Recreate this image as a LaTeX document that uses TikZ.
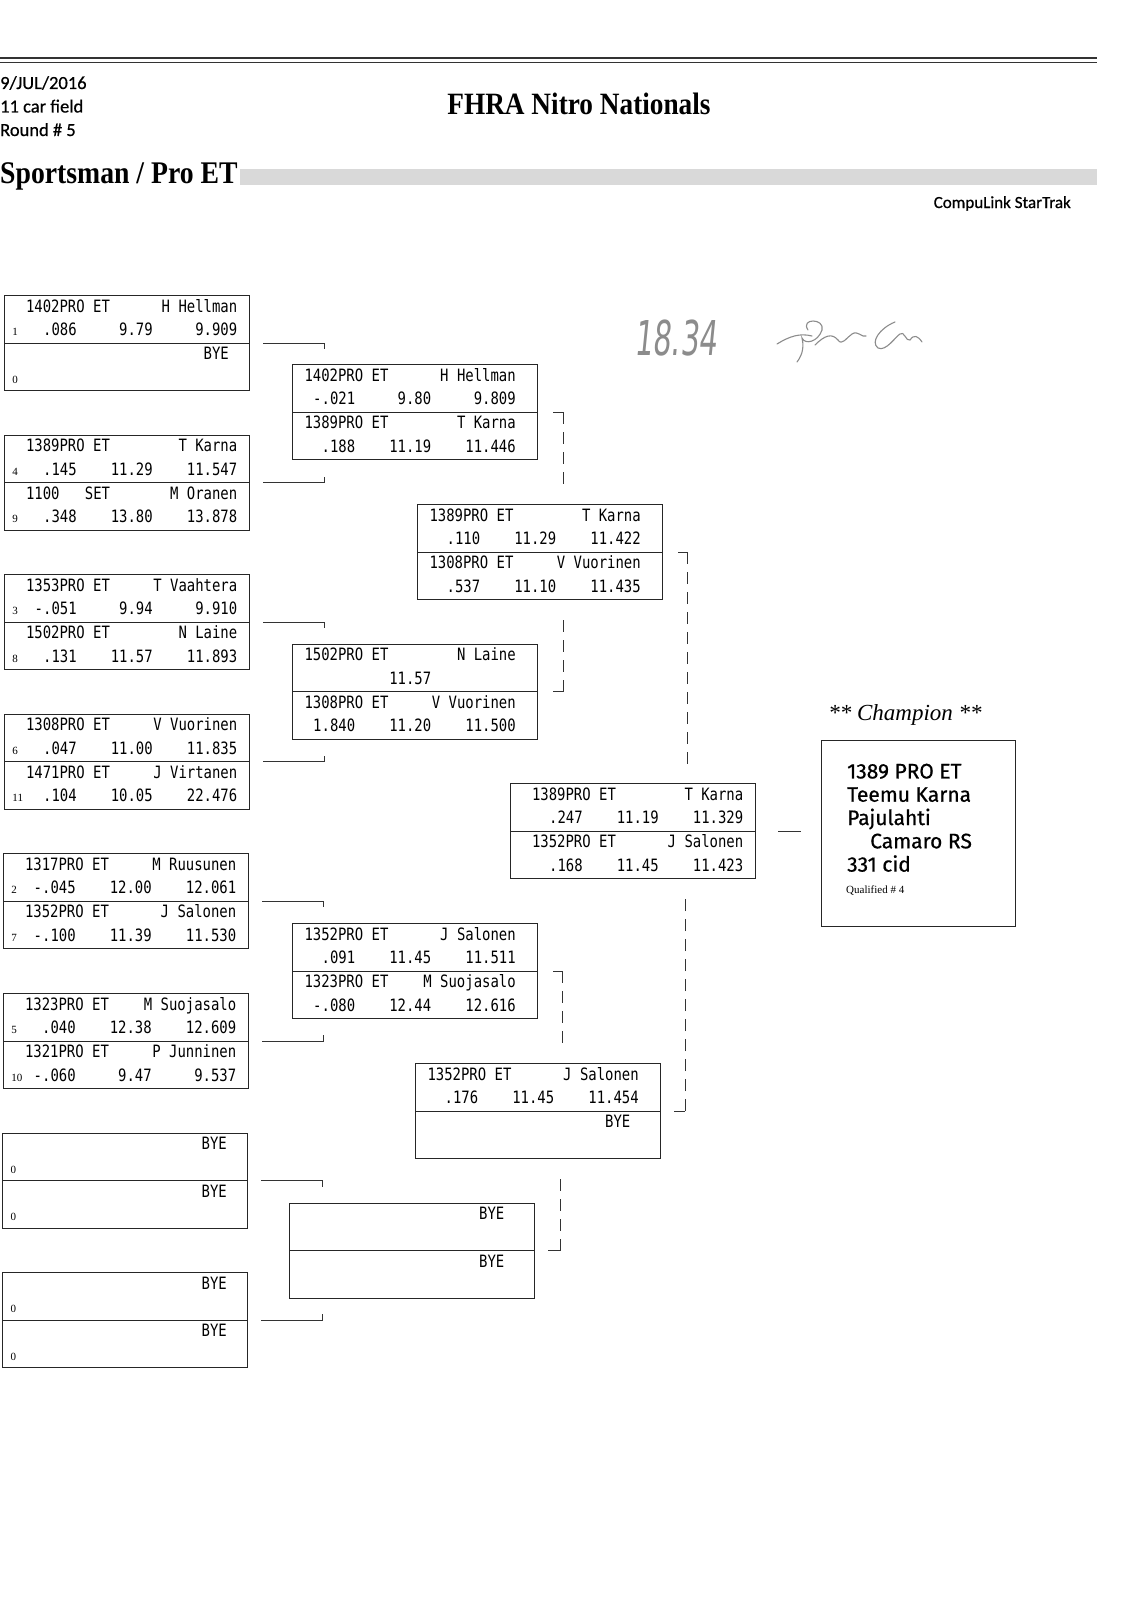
\documentclass[tikz,border=0pt]{standalone}
\usepackage{fontspec}
\setmainfont{Liberation Serif}
\newfontfamily\lanefont[FakeStretch=0.82]{DejaVu Sans Mono}
\newfontfamily\headfont[FakeBold=0.6]{Carlito}
\newfontfamily\champfont[FakeBold=0.7]{Fira Sans}
\newfontfamily\titlefont[FakeStretch=0.88]{Liberation Serif}
\newfontfamily\inkfont[FakeStretch=0.6,FakeSlant=0.1]{DejaVu Sans}
\usetikzlibrary{shapes.multipart, positioning}

\newlength\lpad \setlength\lpad{12pt}
\newlength\chw \setlength\chw{8.45pt}
\newcommand{\seedfont}{\rmfamily\fontsize{11}{11}\selectfont}
% one lane: seed, car, name, reaction, dial, et
\newcommand{\lane}[6]{%
  \parbox[c][46.5pt][t]{245pt}{\lanefont\fontsize{17}{23.5}\selectfont
    \rule{0pt}{16pt}\hspace*{\lpad}\makebox[25\chw][l]{#2\hfill #3}\par
    \makebox[0pt][l]{\hspace*{8pt}\seedfont #1}%
    \hspace*{\lpad}\makebox[6\chw][r]{#4}\makebox[9\chw][r]{#5}\makebox[10\chw][r]{#6}}}
\newcommand{\bye}[1]{%
  \parbox[c][46.5pt][t]{245pt}{\lanefont\fontsize{17}{23.5}\selectfont
    \rule{0pt}{16pt}\hspace*{\lpad}\makebox[24\chw][r]{BYE}\par
    \makebox[0pt][l]{\hspace*{8pt}\seedfont #1}}}

\begin{document}
\begin{tikzpicture}[x=1pt, y=-1pt]

\tikzset{match/.style = {rectangle split, rectangle split parts=2, draw=black!85, line width=1pt, inner sep=0pt, anchor=north west, execute at begin node={\global\lpad=12pt}}}
\tikzset{firstround/.style = {match, execute at begin node={\global\lpad=21.5pt}}}
\tikzset{link/.style = {draw=black!80, line width=0.9pt}}
\tikzset{feed/.style = {draw=black!80, line width=0.9pt, dash pattern=on 12pt off 8pt}}
\tikzset{head/.style = {inner sep=0pt, anchor=base west, font=\headfont\fontsize{18.5}{18.5}\selectfont}}
\tikzset{ink/.style = {draw=black!45, line width=1.1pt, line cap=round}}

\fill[white] (0,0) rectangle (1121,1600);
\useasboundingbox (0,0) rectangle (1121,1600);

%header
\draw[line width=2pt, black!80] (0,58.5) -- (1097,58.5);
\draw[line width=0.9pt, black!80] (0,62.5) -- (1097,62.5);
\node[head] (date) at (0,89) {9/JUL/2016};
\node[head] (field) at (0,112.5) {11 car field};
\node[head] (round) at (0,136) {Round \# 5};
\node[inner sep=0pt, anchor=base, font=\titlefont\bfseries\fontsize{31}{31}\selectfont] (event) at (579,114) {FHRA Nitro Nationals};
\node[inner sep=0pt, anchor=base west, font=\titlefont\bfseries\fontsize{31.5}{31.5}\selectfont] (class) at (0,183.5) {Sportsman / Pro ET};
\fill[black!15] (240,169) rectangle (1097,185);
\node[head, anchor=base east, font=\headfont\fontsize{17}{17}\selectfont] (soft) at (1071,208) {CompuLink StarTrak};

%handwriting
\node[inner sep=0pt, anchor=base west, text=black!45, font=\inkfont\fontsize{48}{48}\selectfont] (time) at (634,355) {18.34};
\draw[ink] (777,344) .. controls (790,336) and (800,333) .. (812,336);
\draw[ink] (808,330) .. controls (800,318) and (825,318) .. (822,330) .. controls (818,342) and (805,345) .. (802,338) .. controls (805,350) and (800,358) .. (797,362);
\draw[ink] (815,345) .. controls (825,335) and (832,333) .. (838,340) .. controls (842,346) and (846,338) .. (852,334) .. controls (858,330) and (862,338) .. (866,336);
\draw[ink] (895,322) .. controls (880,328) and (870,342) .. (878,348) .. controls (886,352) and (896,336) .. (900,334) .. controls (904,330) and (906,342) .. (910,340) .. controls (914,334) and (918,336) .. (922,342);

%first round
\node[firstround] (r1a) at (4,295) {\lane{1}{1402PRO ET}{H Hellman}{.086}{9.79}{9.909}\nodepart{two}\bye{0}};
\node[firstround] (r1b) at (4,434.6) {\lane{4}{1389PRO ET}{T Karna}{.145}{11.29}{11.547}\nodepart{two}\lane{9}{1100\hspace{3\chw}SET}{M Oranen}{.348}{13.80}{13.878}};
\node[firstround] (r1c) at (4,574.2) {\lane{3}{1353PRO ET}{T Vaahtera}{-.051}{9.94}{9.910}\nodepart{two}\lane{8}{1502PRO ET}{N Laine}{.131}{11.57}{11.893}};
\node[firstround] (r1d) at (4,713.8) {\lane{6}{1308PRO ET}{V Vuorinen}{.047}{11.00}{11.835}\nodepart{two}\lane{11}{1471PRO ET}{J Virtanen}{.104}{10.05}{22.476}};
\node[firstround] (r1e) at (3,853.4) {\lane{2}{1317PRO ET}{M Ruusunen}{-.045}{12.00}{12.061}\nodepart{two}\lane{7}{1352PRO ET}{J Salonen}{-.100}{11.39}{11.530}};
\node[firstround] (r1f) at (3,993) {\lane{5}{1323PRO ET}{M Suojasalo}{.040}{12.38}{12.609}\nodepart{two}\lane{10}{1321PRO ET}{P Junninen}{-.060}{9.47}{9.537}};
\node[firstround] (r1g) at (2,1132.6) {\bye{0}\nodepart{two}\bye{0}};
\node[firstround] (r1h) at (2,1272.2) {\bye{0}\nodepart{two}\bye{0}};

%second round
\node[match] (r2a) at (292,364) {\lane{}{1402PRO ET}{H Hellman}{-.021}{9.80}{9.809}\nodepart{two}\lane{}{1389PRO ET}{T Karna}{.188}{11.19}{11.446}};
\node[match] (r2b) at (292,643.5) {\lane{}{1502PRO ET}{N Laine}{}{11.57}{}\nodepart{two}\lane{}{1308PRO ET}{V Vuorinen}{1.840}{11.20}{11.500}};
\node[match] (r2c) at (292,923) {\lane{}{1352PRO ET}{J Salonen}{.091}{11.45}{11.511}\nodepart{two}\lane{}{1323PRO ET}{M Suojasalo}{-.080}{12.44}{12.616}};
\node[match] (r2d) at (289,1202.5) {\bye{}\nodepart{two}\bye{}};

%semi finals
\node[match] (r3a) at (417,504) {\lane{}{1389PRO ET}{T Karna}{.110}{11.29}{11.422}\nodepart{two}\lane{}{1308PRO ET}{V Vuorinen}{.537}{11.10}{11.435}};
\node[match] (r3b) at (415,1063) {\lane{}{1352PRO ET}{J Salonen}{.176}{11.45}{11.454}\nodepart{two}\bye{}};

%final
\node[firstround] (r4) at (510,783) {\lane{}{1389PRO ET}{T Karna}{.247}{11.19}{11.329}\nodepart{two}\lane{}{1352PRO ET}{J Salonen}{.168}{11.45}{11.423}};

%champion
\node[inner sep=0pt, anchor=base, font=\itshape\fontsize{23}{23}\selectfont] (champtitle) at (905,720) {** Champion **};
\node[draw=black!85, line width=1pt, anchor=north west, minimum width=194pt, minimum height=186pt] (champ) at (821,740) {};
\node[inner sep=0pt, anchor=north west, align=left, font=\champfont\fontsize{21}{23.3}\selectfont] (champinfo) at (847,763.5) {1389 PRO ET\\Teemu Karna\\Pajulahti\\\hspace*{23pt}Camaro RS\\331 cid};
\node[inner sep=0pt, anchor=base west, font=\fontsize{11}{11}\selectfont] (qual) at (846,893.5) {Qualified \# 4};

%connectors
\draw[link] ([xshift=13pt]r1a.text split east) -- ++(61,0) -- ++(0,6);
\draw[link] ([xshift=13pt]r1b.text split east) -- ++(61,0) -- ++(0,-6);
\draw[link] ([xshift=13pt]r1c.text split east) -- ++(61,0) -- ++(0,6);
\draw[link] ([xshift=13pt]r1d.text split east) -- ++(61,0) -- ++(0,-6);
\draw[link] ([xshift=13pt]r1e.text split east) -- ++(61,0) -- ++(0,6);
\draw[link] ([xshift=13pt]r1f.text split east) -- ++(61,0) -- ++(0,-6);
\draw[link] ([xshift=13pt]r1g.text split east) -- ++(61,0) -- ++(0,6);
\draw[link] ([xshift=13pt]r1h.text split east) -- ++(61,0) -- ++(0,-6);

\draw[link] ([xshift=15pt]r2a.text split east) -- ++(10,0) coordinate (j1);
\draw[feed] (j1) -- ([yshift=15pt]j1 |- r3a.north);
\draw[link] ([xshift=15pt]r2b.text split east) -- ++(10,0) coordinate (j2);
\draw[feed] (j2) -- ([yshift=-20pt]j2 |- r3a.south);
\draw[link] ([xshift=15pt]r2c.text split east) -- ++(9,0) coordinate (j3);
\draw[feed] (j3) -- ([yshift=15pt]j3 |- r3b.north);
\draw[link] ([xshift=13pt]r2d.text split east) -- ++(12,0) coordinate (j4);
\draw[feed] (j4) -- ([yshift=-20pt]j4 |- r3b.south);

\draw[link] ([xshift=15pt]r3a.text split east) -- ++(9,0) coordinate (j5);
\draw[feed] (j5) -- ([yshift=13pt]j5 |- r4.north);
\draw[link] ([xshift=13pt]r3b.text split east) -- ++(11,0) coordinate (j6);
\draw[feed] (j6) -- ([yshift=-20pt]j6 |- r4.south);

\draw[link] ([xshift=22pt]r4.text split east) -- ([xshift=-20pt]champ.west |- r4.text split east);

\end{tikzpicture}
\end{document}
